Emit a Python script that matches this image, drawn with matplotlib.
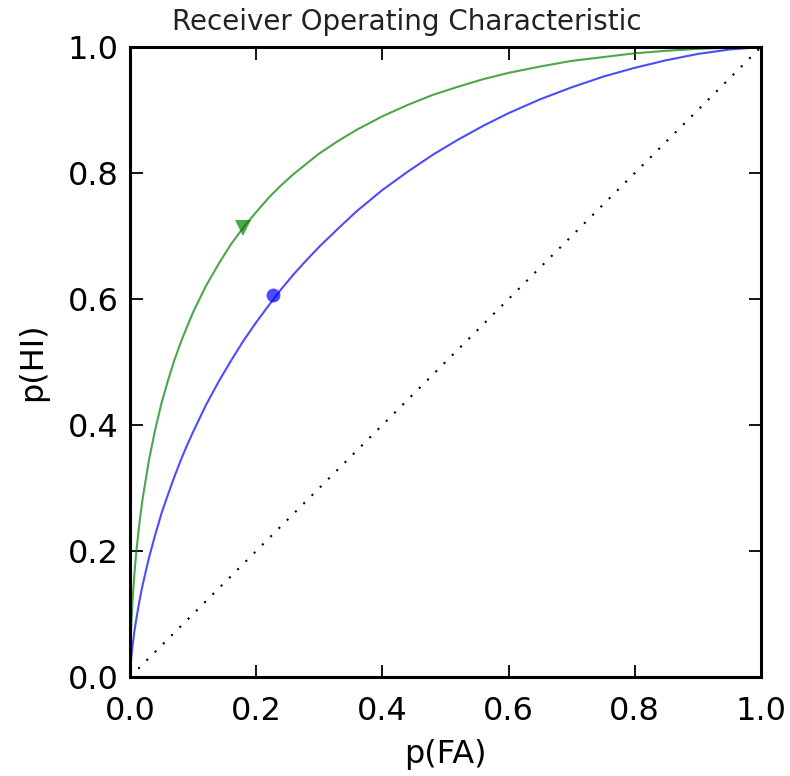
import matplotlib
matplotlib.use("Agg")
import matplotlib.pyplot as plt

# values
fa_pts = [0.0, 0.0005, 0.001, 0.002, 0.004, 0.007, 0.01, 0.015, 0.02, 0.03,
          0.04, 0.05, 0.06, 0.07, 0.08, 0.09, 0.10, 0.12, 0.14, 0.16, 0.18,
          0.20, 0.22, 0.24, 0.26, 0.28, 0.30, 0.33, 0.36, 0.40, 0.44, 0.48,
          0.52, 0.56, 0.60, 0.65, 0.70, 0.75, 0.80, 0.85, 0.90, 0.95, 1.0]
hi_green = [0.0, 0.035, 0.054, 0.081, 0.121, 0.164, 0.199, 0.245, 0.283, 0.344,
            0.393, 0.435, 0.470, 0.502, 0.530, 0.555, 0.579, 0.620, 0.655, 0.687,
            0.714, 0.738, 0.761, 0.781, 0.799, 0.815, 0.831, 0.851, 0.869, 0.890,
            0.908, 0.924, 0.937, 0.949, 0.959, 0.969, 0.978, 0.984, 0.990, 0.994,
            0.997, 0.999, 1.0]
hi_blue = [0.0, 0.011, 0.018, 0.030, 0.049, 0.073, 0.092, 0.121, 0.146, 0.189,
           0.226, 0.260, 0.289, 0.317, 0.343, 0.367, 0.389, 0.431, 0.468, 0.502,
           0.534, 0.563, 0.590, 0.616, 0.640, 0.662, 0.683, 0.712, 0.740, 0.773,
           0.802, 0.829, 0.853, 0.875, 0.895, 0.917, 0.936, 0.953, 0.967, 0.979,
           0.989, 0.996, 1.0]
chance = [0.0, 1.0]

green_pt = (0.179, 0.713)
blue_pt = (0.227, 0.606)

ticks = [0.0, 0.2, 0.4, 0.6, 0.8, 1.0]

fig = plt.figure(figsize=(7.9, 7.76), dpi=100)
fig.patch.set_facecolor("white")
ax = fig.add_axes([130 / 790, 99 / 776, 631 / 790, 630 / 776])

ax.plot(chance, chance, color="black", linestyle=(0, (1, 4.6)), linewidth=1.5)
ax.plot(fa_pts, hi_green, color="g", alpha=0.7, linewidth=1.5)
ax.plot(fa_pts, hi_blue, color="b", alpha=0.7, linewidth=1.5)
ax.plot([green_pt[0]], [green_pt[1]], marker="v", color="g", alpha=0.7,
        markersize=12, markeredgewidth=0)
ax.plot([blue_pt[0]], [blue_pt[1]], marker="o", color="b", alpha=0.7,
        markersize=10, markeredgewidth=0)

ax.set_xlim(0, 1)
ax.set_ylim(0, 1)
ax.set_xticks(ticks)
ax.set_yticks(ticks)
ax.set_xticklabels([f"{t:.1f}" for t in ticks])
ax.set_yticklabels([f"{t:.1f}" for t in ticks])
ax.tick_params(direction="in", length=9, width=1.3, labelsize=23,
               top=True, right=True, pad=8)
ax.tick_params(axis="x", pad=14)
for s in ax.spines.values():
    s.set_linewidth(2.2)

ax.set_xlabel("p(FA)", fontsize=23, labelpad=8)
ax.set_ylabel("p(HI)", fontsize=23, labelpad=14)
fig.text(407 / 790, 1 - 30 / 776, "Receiver Operating Characteristic",
         fontsize=20, ha="center", va="baseline", color="#222222")

fig.savefig("out.png", dpi=100, facecolor="white")
